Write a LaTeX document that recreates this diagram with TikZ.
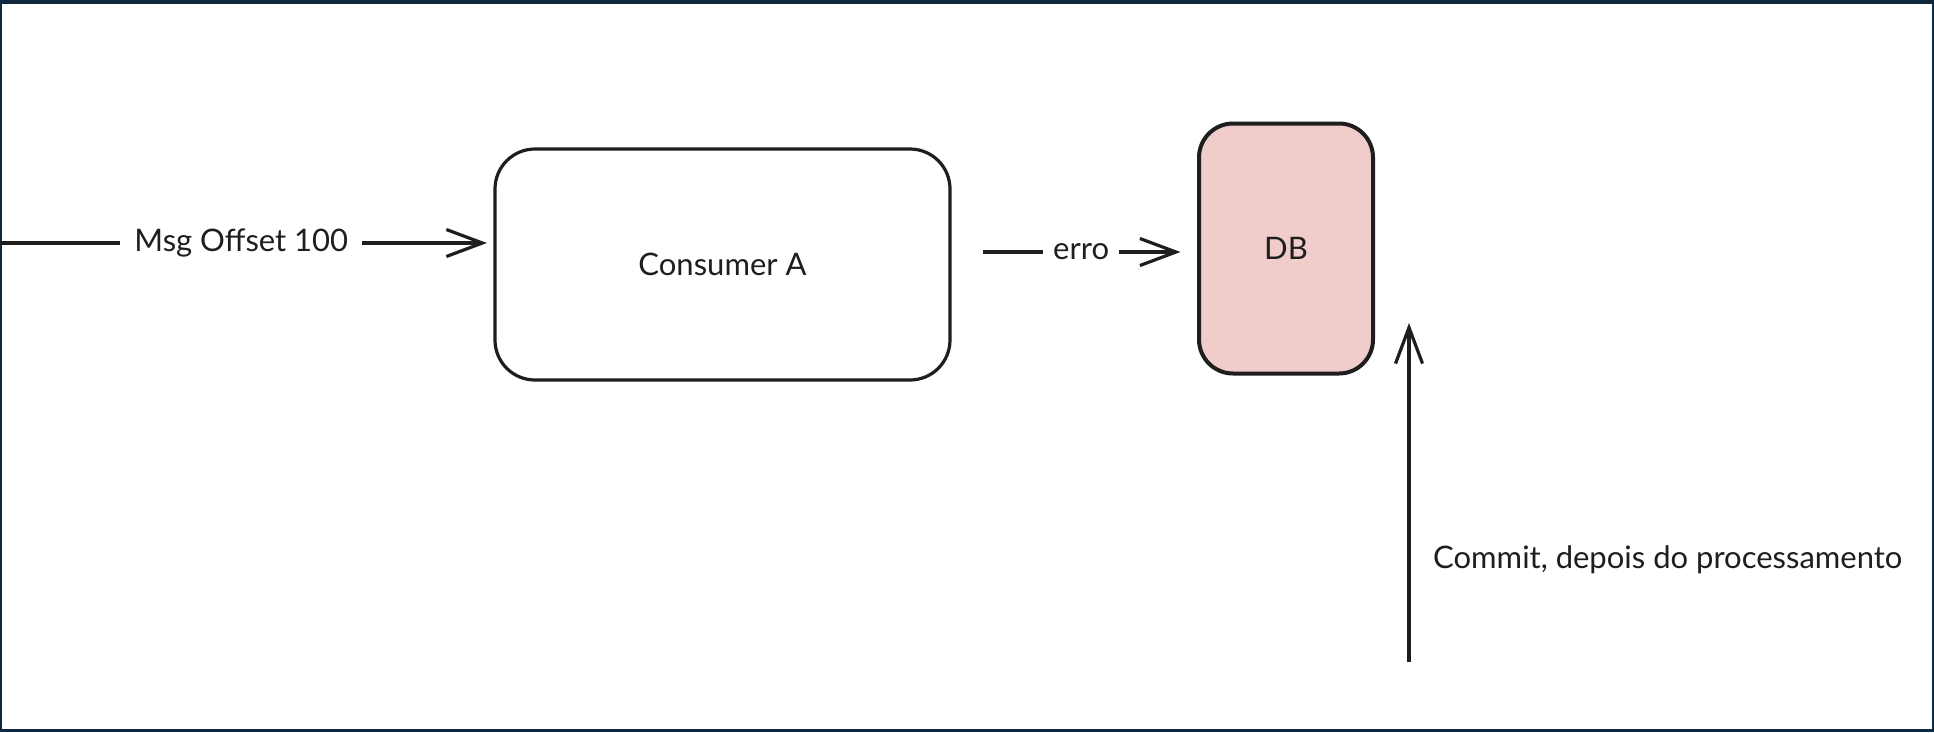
\documentclass[tikz,border=0pt]{standalone}
\usepackage{fontspec}
\setmainfont{Lato}
\usetikzlibrary{arrows.meta}
\definecolor{frame}{HTML}{10293F}
\definecolor{ink}{HTML}{1E1E1E}
\definecolor{dbfill}{RGB}{240,204,202}
\begin{document}
\begin{tikzpicture}[x=1pt,y=-1pt,
  lbl/.style={font=\fontsize{31}{36}\selectfont, text=ink, inner sep=2pt},
  lblline/.style={lbl, fill=white, inner xsep=10pt},
  boxnode/.style={draw=ink, line width=3.2pt, rounded corners=40pt,
    minimum width=455pt, minimum height=231pt, font=\fontsize{31}{36}\selectfont, text=ink},
  conn/.style={draw=ink, line width=3.2pt, -{Straight Barb[length=36pt,width=27pt,line width=3.2pt]}},
]
\fill[frame] (0,0) rectangle (1934,732);
\fill[white] (2,4) rectangle (1932,729);
\useasboundingbox (0,0) rectangle (1934,732);

\node[boxnode] (cons) at (722.5,264.5) {Consumer A};
\node[boxnode, line width=4pt, fill=dbfill, minimum width=174pt, minimum height=250pt, rounded corners=34pt] (db) at (1286,248.5) {DB};

\coordinate (src) at (0,243);
\draw[conn, shorten >=6.5pt] (src) -- (cons.west |- src)
  node[pos=0.489, lblline, inner xsep=14pt] (msg) {Msg Offset 100};

\coordinate (ey) at (0,252);
\draw[conn, shorten <=31.5pt, shorten >=16.5pt] (cons.east |- ey) -- (db.west |- ey)
  node[pos=0.528, lblline] (erro) {erro};

\coordinate (cb) at (1409,662);
\coordinate (ct) at (1409,323);
\draw[conn] (cb) -- (ct);
\node[lbl, anchor=west] (commit) at (1431,560) {Commit, depois do processamento};
\end{tikzpicture}
\end{document}
